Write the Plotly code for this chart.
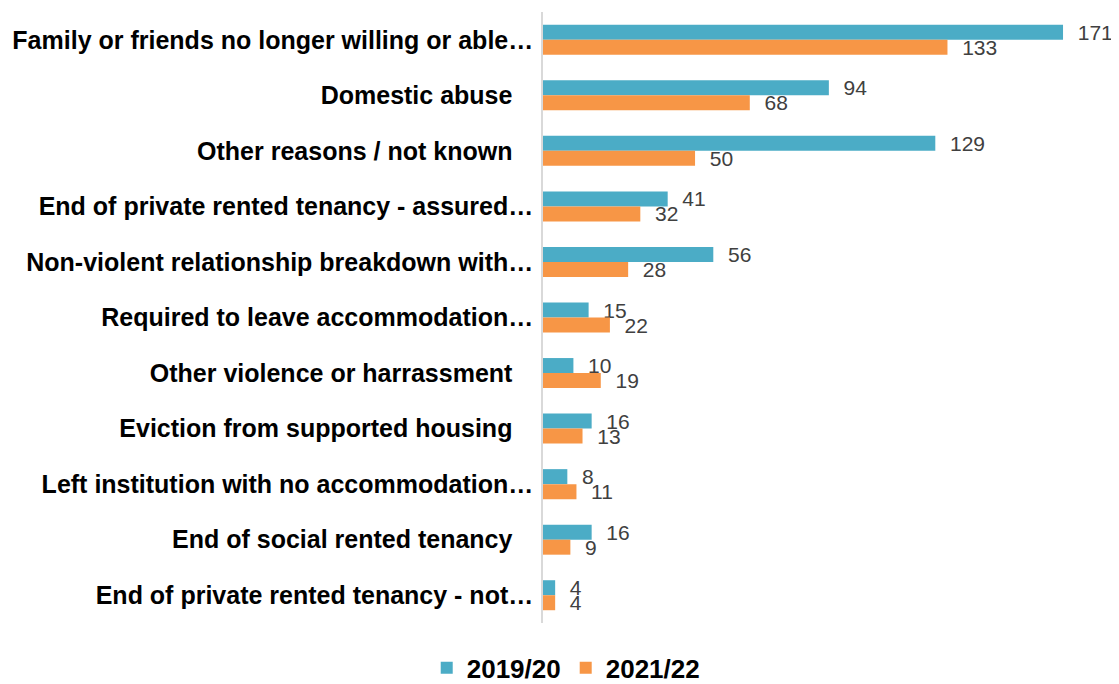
import plotly.graph_objects as go

categories = [
    "Family or friends no longer willing or able…",
    "Domestic abuse\u00a0\u00a0\u00a0",
    "Other reasons / not known\u00a0\u00a0\u00a0",
    "End of private rented tenancy - assured…",
    "Non-violent relationship breakdown with…",
    "Required to leave accommodation…",
    "Other violence or harrassment\u00a0\u00a0\u00a0",
    "Eviction from supported housing\u00a0\u00a0\u00a0",
    "Left institution with no accommodation…",
    "End of social rented tenancy\u00a0\u00a0\u00a0",
    "End of private rented tenancy - not…",
]
series_names = ["2019/20", "2021/22"]
values_1920 = [171, 94, 129, 41, 56, 15, 10, 16, 8, 16, 4]
values_2122 = [133, 68, 50, 32, 28, 22, 19, 13, 11, 9, 4]
colors = ["#4BACC6", "#F79646"]

fig = go.Figure()
for name, vals, col in zip(series_names, [values_1920, values_2122], colors):
    fig.add_trace(go.Bar(
        y=categories, x=vals, name=name, orientation="h",
        marker=dict(color=col, line=dict(width=0)),
        texttemplate="\u00a0\u00a0%{x}", textposition="outside",
        textfont=dict(family="Liberation Sans, Arial", size=21, color="#404040"),
        cliponaxis=False, constraintext="none",
    ))

# page body adds an 8px offset, so the figure is 8px smaller
fig.update_layout(
    width=1111, height=676,
    barmode="group", bargap=0.46, bargroupgap=0,
    plot_bgcolor="white", paper_bgcolor="white",
    margin=dict(l=535, r=21, t=4, b=61, autoexpand=False),
    showlegend=True,
    legend=dict(orientation="h", x=0.502, xref="container", xanchor="center",
                y=0.024, yref="container", yanchor="middle",
                font=dict(family="Liberation Sans, Arial", size=26, color="black",
                          weight="bold"),
                traceorder="normal"),
)
fig.update_xaxes(range=[0, 182.5], showgrid=False, showticklabels=False,
                 zeroline=False, showline=False, ticks="", automargin=False)
fig.update_yaxes(autorange="reversed", showline=True, linecolor="#D9D9D9",
                 linewidth=1.5, ticks="", ticklabelstandoff=3, automargin=False,
                 tickfont=dict(family="Liberation Sans, Arial", size=25,
                               color="black", weight="bold"))

fig.write_html("out.html")
